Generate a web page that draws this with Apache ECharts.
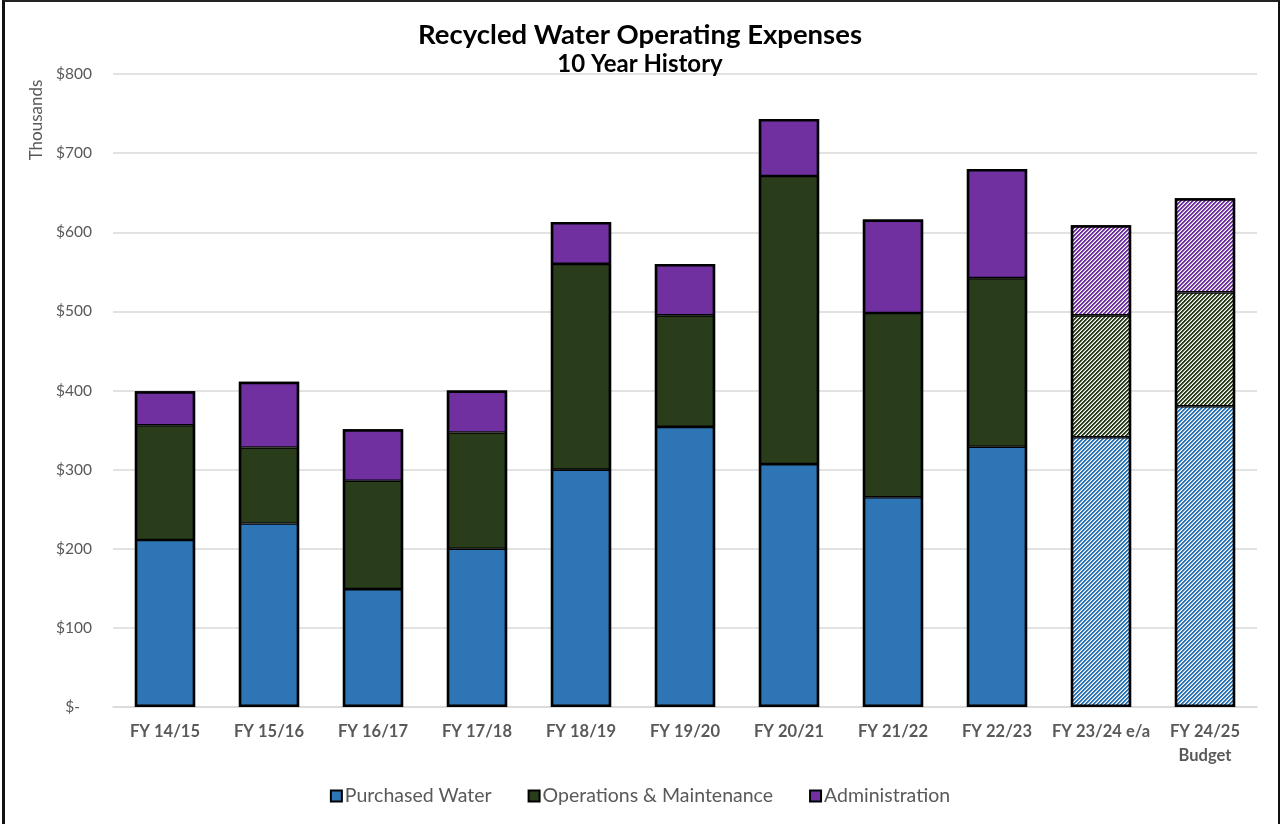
<!DOCTYPE html>
<html>
<head>
<meta charset="utf-8">
<script src="https://cdn.jsdelivr.net/npm/echarts@6/dist/echarts.min.js"></script>
<style>
  html, body { margin: 0; padding: 0; background: #fff; }
  #frame { position: absolute; left: 2px; top: 0; width: 1273px; height: 830px;
           border-left: 3px solid #111; border-top: 2px solid #222; border-right: 3px solid #111; }
  #chart { position: absolute; left: 0; top: 0; width: 1280px; height: 824px; }
</style>
</head>
<body>
<div id="frame"></div>
<div id="chart"></div>
<script>
// Fiscal years shown on the category axis
const categories = ['FY 14/15', 'FY 15/16', 'FY 16/17', 'FY 17/18', 'FY 18/19', 'FY 19/20',
                    'FY 20/21', 'FY 21/22', 'FY 22/23', 'FY 23/24 e/a', 'FY 24/25\nBudget'];
// Expense components, in thousands of dollars
const purchasedWater = [211, 232, 149, 200, 300, 354, 307, 265, 329, 341, 380];
const operationsMaintenance = [145, 96, 137, 147, 260, 141, 364, 233, 213, 154, 144];
const administration = [43, 83, 65, 53, 53, 65, 72, 118, 138, 114, 119];
// Estimated / budgeted years are drawn hatched
const projectedYears = ['FY 23/24 e/a', 'FY 24/25\nBudget'];
const yTicks = [0, 100, 200, 300, 400, 500, 600, 700, 800];

const COLORS = { blue: '#2E75B6', green: '#2A3D1B', purple: '#7030A0' };

// Diagonal "/" stripe fill used for projected years
function hatch(color) {
  const c = document.createElement('canvas');
  c.width = 4; c.height = 4;
  const ctx = c.getContext('2d');
  ctx.fillStyle = '#ffffff';
  ctx.fillRect(0, 0, 4, 4);
  for (let x = 0; x < 4; x++) {
    for (let y = 0; y < 4; y++) {
      const m = (x + y) % 4;
      if (m === 0 || m === 1) {
        ctx.globalAlpha = 1;
        ctx.fillStyle = color;
        ctx.fillRect(x, y, 1, 1);
      } else if (m === 2) {
        ctx.globalAlpha = 0.45;
        ctx.fillStyle = color;
        ctx.fillRect(x, y, 1, 1);
      }
    }
  }
  return { image: c, repeat: 'repeat' };
}

function seriesData(values, color) {
  const pat = hatch(color);
  return values.map((v, i) => projectedYears.includes(categories[i])
    ? { value: v, itemStyle: { color: pat } }
    : v);
}

// Column totals, used for the heavier outline around each stacked column
const totals = categories.map((_, i) => purchasedWater[i] + operationsMaintenance[i] + administration[i]);

const barStyle = (color) => ({ color: color, borderColor: '#000', borderWidth: 1.3 });

const chart = echarts.init(document.getElementById('chart'));
chart.setOption({
  backgroundColor: 'transparent',
  animation: false,
  title: [
    { text: 'Recycled Water Operating Expenses', left: 'center', top: 16,
      textStyle: { fontFamily: 'Lato', fontWeight: 'bold', fontSize: 27.5, color: '#000' } },
    { text: '10 Year History', left: 'center', top: 47,
      textStyle: { fontFamily: 'Lato', fontWeight: 'bold', fontSize: 24, color: '#000' } }
  ],
  grid: { left: 113, right: 23, top: 74, bottom: 117, containLabel: false },
  legend: {
    bottom: 13, left: 'center', itemWidth: 11, itemHeight: 11, itemGap: 36,
    icon: 'rect',
    itemStyle: { borderColor: '#000', borderWidth: 2 },
    textStyle: { fontFamily: 'Lato', fontSize: 19.5, color: '#595959', padding: [0, 0, 0, -2] },
    data: ['Purchased Water', 'Operations & Maintenance', 'Administration']
  },
  graphic: [{
    type: 'text', x: 37, y: 120, rotation: Math.PI / 2,
    style: { text: 'Thousands', fontFamily: 'Lato', fontSize: 17, fill: '#595959',
             align: 'center', verticalAlign: 'middle' }
  }],
  xAxis: {
    type: 'category', data: categories,
    axisLine: { lineStyle: { color: '#d9d9d9', width: 1.5 } },
    axisTick: { show: false },
    axisLabel: { margin: 13, fontFamily: 'Lato', fontWeight: 'bold', fontSize: 16.5,
                 color: '#595959', lineHeight: 24, interval: 0 }
  },
  yAxis: {
    type: 'value', min: yTicks[0], max: yTicks[yTicks.length - 1], interval: 100,
    axisLine: { show: false }, axisTick: { show: false },
    splitLine: { lineStyle: { color: '#d9d9d9', width: 1.5 } },
    axisLabel: { margin: 21, fontFamily: 'Lato', fontSize: 15.5, color: '#595959',
                 formatter: v => v === 0 ? '$-   ' : '$' + v }
  },
  series: [
    { name: 'Purchased Water', type: 'bar', stack: 'total', barCategoryGap: '42%', barGap: '-100%',
      itemStyle: barStyle(COLORS.blue), data: seriesData(purchasedWater, COLORS.blue) },
    { name: 'Operations & Maintenance', type: 'bar', stack: 'total',
      itemStyle: barStyle(COLORS.green), data: seriesData(operationsMaintenance, COLORS.green) },
    { name: 'Administration', type: 'bar', stack: 'total',
      itemStyle: barStyle(COLORS.purple), data: seriesData(administration, COLORS.purple) },
    { name: 'outline', type: 'bar', barGap: '-100%', silent: true, z: 3,
      itemStyle: { color: 'transparent', borderColor: '#000', borderWidth: 2.5 },
      data: totals }
  ]
});
</script>
</body>
</html>
